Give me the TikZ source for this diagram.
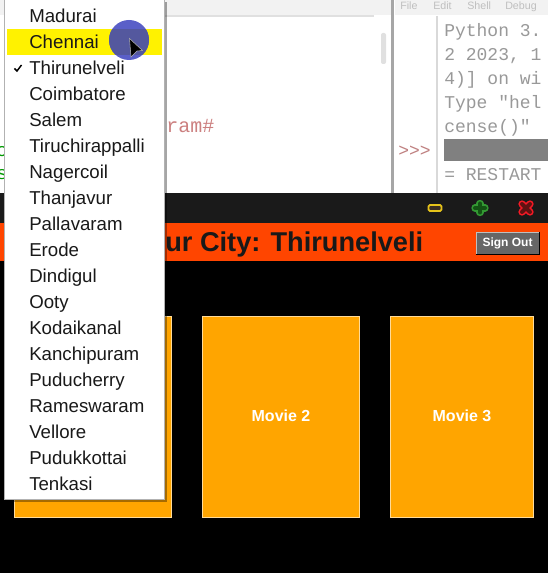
\documentclass[tikz,border=0pt]{standalone}
\usepackage{fontspec}
\setmainfont{Liberation Sans}
\newfontfamily\codefont{Liberation Mono}
\definecolor{barred}{HTML}{FF4500}
\definecolor{cardorange}{HTML}{FFA500}
\definecolor{titledark}{HTML}{1A1A1A}
\definecolor{pointerblue}{HTML}{5A5FC8}
\definecolor{pointerband}{HTML}{54589E}
\tikzset{
  menuitem/.style={anchor=base west,inner sep=0pt,font=\fontsize{14}{16}\selectfont,text=black!90},
  shelltext/.style={anchor=base west,inner sep=0pt,font=\codefont\fontsize{13.5}{15}\selectfont,text=black!40},
  shellmenu/.style={anchor=base west,inner sep=0pt,font=\fontsize{8}{10}\selectfont,text=black!25},
  movielabel/.style={inner sep=0pt,text=white,font=\bfseries\fontsize{12}{14}\selectfont},
  moviecard/.style={fill=cardorange,draw=cardorange!40!white,line width=0.5pt},
}
\begin{document}
\begin{tikzpicture}[x=0.75pt,y=-0.75pt]
  \useasboundingbox (0,0) rectangle (548,573);
  % Editor and shell behind the window.
  \fill[white] (0,0) rectangle (548,193);
  \fill[black!5] (0,0) rectangle (392,15);
  \fill[black!5] (395,0) rectangle (548,15);
  \draw[black!12,line width=0.8pt] (165,16) -- (374,16);
  \fill[black!12,rounded corners=1.5pt] (381,33) rectangle (386,64);
  \fill[black!35] (391,0) rectangle (394,193);
  \draw[black!15,line width=0.8pt] (437,16) -- (437,193);
  \node[anchor=base west,inner sep=0pt,text=red!60!black!50,font=\codefont\fontsize{15}{17}\selectfont] (editorcode) at (166,133) {ram\#};
  \node[anchor=base west,inner sep=0pt,text=green!60!black,font=\codefont\fontsize{14}{16}\selectfont] (greenc) at (-4,157) {c};
  \node[anchor=base west,inner sep=0pt,text=green!60!black,font=\codefont\fontsize{14}{16}\selectfont] (greens) at (-4,180) {s};
  \foreach \name/\x in {File/400,Edit/433,Shell/467,Debug/505}
    \node[shellmenu] (menu\name) at (\x,10) {\name};
  \foreach \shellline/\y in {Python 3./37,2 2023{,} 1/61,4){]} on wi/85,Type "hel/109,cense()"/133,= RESTART/181}
    \node[shelltext] at (444,\y) {\shellline};
  \node[shelltext,text=red!50!black!50] (prompt) at (398,157) {>>>};
  \fill[black!50] (444,139) rectangle (548,161);

  % Application window.
  \fill[black] (0,193) rectangle (548,573);
  \fill[titledark] (0,193) rectangle (548,223);
  \fill[barred] (0,223) rectangle (548,261);
  \node[anchor=base west,inner sep=0pt,font=\bfseries\fontsize{20.4}{24}\selectfont,text=black!90] (citytitle) at (165,251) {ur City: Thirunelveli};
  \node[draw=black!25,fill=black!60,minimum width=47pt,minimum height=16.5pt,inner sep=0pt,text=white,
    font=\bfseries\fontsize{9}{11}\selectfont] (signout) at (507.5,243) {Sign Out};
  \draw[black] (signout.south west) -- (signout.south east) -- (signout.north east);

  % Window buttons.
  \draw[rounded corners=1pt,line width=1.3pt,draw=yellow!70!orange!90!black,fill=titledark!80!brown] (428.5,205) rectangle (441.5,211);
  \draw[line cap=round,line width=5.5pt,green!50!black!80!white] (480,203.5) -- (480,212.5) (475,208) -- (485,208);
  \draw[line cap=round,line width=3pt,titledark!75!green] (480,203.5) -- (480,212.5) (475,208) -- (485,208);
  \draw[line cap=round,line width=5.5pt,red!80!purple!90!white] (522,204) -- (530,212) (522,212) -- (530,204);
  \draw[line cap=round,line width=3pt,titledark!70!red] (522,204) -- (530,212) (522,212) -- (530,204);

  % Movie cards.
  \draw[moviecard] (14,316) rectangle (171.5,517.5);
  \draw[moviecard] (202,316) rectangle (359.5,517.5);
  \draw[moviecard] (390,316) rectangle (533.5,517.5);
  \node[movielabel] (movie2) at (281,416) {Movie 2};
  \node[movielabel] (movie3) at (462,416) {Movie 3};

  % City menu.
  \fill[black,opacity=0.35] (7,2) rectangle (167,502);
  \draw[black!30,fill=white] (4.5,-2) rectangle (164.5,499);
  \fill[yellow] (7,29) rectangle (162,55);
  \foreach \city [count=\row from 0] in {Madurai,Chennai,Thirunelveli,Coimbatore,Salem,
      Tiruchirappalli,Nagercoil,Thanjavur,Pallavaram,Erode,Dindigul,Ooty,Kodaikanal,
      Kanchipuram,Puducherry,Rameswaram,Vellore,Pudukkottai,Tenkasi}
    \node[menuitem] (city\row) at (29,{22.5+26*\row}) {\city};
  \draw[black,line width=1.1pt] (14.5,68.5) -- (17,71) -- (21.5,65);

  % Mouse pointer.
  \fill[pointerblue] (129,40) circle (20);
  \begin{scope}
    \clip (129,40) circle (20);
    \fill[pointerband] (109,29) rectangle (162,55);
  \end{scope}
  \draw[white!70!black,fill=black,line width=0.4pt] (129.5,38.5) -- (142.5,50.5) -- (137,51) -- (131,57) -- cycle;
\end{tikzpicture}
\end{document}
